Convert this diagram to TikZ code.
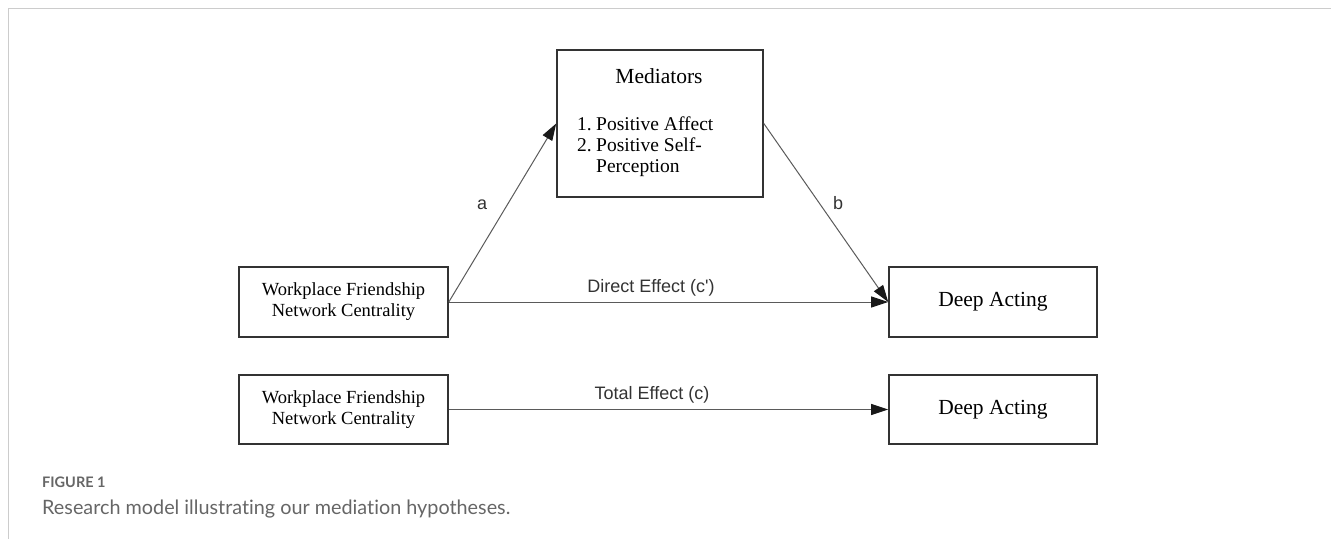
\documentclass[tikz,border=0pt]{standalone}
\usepackage{fontspec}
\setmainfont{Liberation Serif}
\newfontfamily\labelfont{Liberation Sans}
\newfontfamily\capfont[Ligatures={NoCommon}]{Lato}
\usetikzlibrary{arrows.meta}
\definecolor{framegray}{HTML}{CCCCCC}
\definecolor{boxline}{HTML}{333333}
\definecolor{arrline}{HTML}{5A5A5A}
\definecolor{captxt}{HTML}{666666}
\tikzset{
  varbox/.style={draw=boxline, line width=1.6pt, inner sep=0pt, align=center},
  boxtext/.style={font=\fontsize{18.5}{21}\selectfont},
  medtext/.style={font=\fontsize{19.5}{21}\selectfont, inner sep=0pt},
  pathlabel/.style={font=\labelfont\fontsize{18}{21}\selectfont, text=black!80, inner sep=0pt},
  effect/.style={draw=arrline, line width=1pt, -{Triangle[length=17pt,width=11pt,color=black!90]}},
  frameline/.style={draw=framegray, line width=1.6pt}
}
\begin{document}
\begin{tikzpicture}[x=1pt,y=-1pt]
\useasboundingbox (0,0) rectangle (1331,539);
% frame
\coordinate (ftr) at (1331,8.5);
\coordinate (ftl) at (8.5,8.5);
\coordinate (fbl) at (8.5,539);
\draw[frameline] (ftr) -- (ftl) -- (fbl);

% boxes
\node[varbox, boxtext, minimum width=209pt, minimum height=70pt] (w1) at (343.5,302) {Workplace Friendship\\Network Centrality};
\node[varbox, boxtext, minimum width=209pt, minimum height=69pt] (w2) at (343.5,409.5) {Workplace Friendship\\Network Centrality};
\node[varbox, font=\fontsize{21.5}{24}\selectfont, minimum width=208pt, minimum height=70pt] (d1) at (993,302) {Deep Acting};
\node[varbox, font=\fontsize{21.5}{24}\selectfont, minimum width=208pt, minimum height=69pt] (d2) at (993,409.5) {Deep Acting};
\node[varbox, minimum width=206pt, minimum height=147pt] (m) at (660,123.5) {};

% mediator text
\node[medtext, font=\fontsize{21.5}{24}\selectfont, anchor=base] (mt) at (659,83) {Mediators};
\node[medtext, anchor=base west] (n1) at (577,130) {1.};
\node[medtext, anchor=base west] (i1) at (596,130) {Positive Affect};
\node[medtext, anchor=base west] (n2) at (577,151) {2.};
\node[medtext, anchor=base west] (i2) at (596,151) {Positive Self-};
\node[medtext, anchor=base west] (i3) at (596,172) {Perception};

% connectors
\draw[effect] (w1.east) -- (m.west);
\draw[effect] (m.east) -- (d1.west);
\draw[effect] (w1.east) -- (d1.west);
\draw[effect] (w2.east) -- (d2.west);

% labels
\node[pathlabel, anchor=base] (la) at (482,209) {a};
\node[pathlabel, anchor=base] (lb) at (838,209) {b};
\node[pathlabel, anchor=base] (lc1) at (651,292) {Direct Effect (c')};
\node[pathlabel, anchor=base] (lc) at (652,399) {Total Effect (c)};

% caption
\node[anchor=base west, inner sep=0pt, text=captxt, font=\capfont\bfseries\fontsize{14.5}{18}\selectfont] (fig) at (42,487) {FIGURE 1};
\node[anchor=base west, inner sep=0pt, text=captxt, font=\capfont\fontsize{19.8}{22}\selectfont] (cap) at (42,514) {Research model illustrating our mediation hypotheses.};
\end{tikzpicture}
\end{document}
